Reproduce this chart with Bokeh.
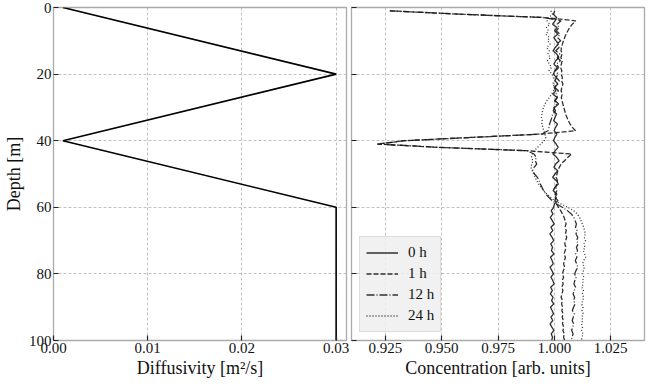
from bokeh.plotting import figure
from bokeh.layouts import row
from bokeh.models import Range1d, FixedTicker, Legend, LegendItem
from bokeh.embed import file_html
from bokeh.resources import INLINE

# ---- data -----------------------------------------------------------------
diff_depth = [0, 20, 40, 60, 100]
diff_vals = [0.001, 0.030, 0.001, 0.030, 0.030]

depth = list(range(1, 101))

conc_0h = [
    1.0002, 0.9995, 1.0010, 1.0003, 0.9992, 1.0012, 1.0001, 1.0015, 0.9997, 1.0008,
    1.0018, 1.0004, 0.9994, 1.0011, 1.0020, 1.0006, 0.9998, 1.0013, 1.0002, 0.9996,
    1.0009, 1.0003, 1.0016, 0.9999, 1.0007, 0.9993, 1.0012, 1.0004, 1.0019, 1.0001,
    0.9995, 1.0010, 1.0003, 0.9997, 1.0014, 1.0005, 0.9999, 1.0011, 1.0002, 0.9996,
    1.0008, 1.0017, 1.0004, 0.9994, 1.0010, 1.0021, 1.0006, 0.9998, 1.0015, 1.0003,
    0.9992, 1.0009, 1.0018, 1.0002, 0.9995, 1.0011, 1.0004, 1.0016, 1.0000, 0.9997,
    0.9986, 0.9994, 0.9982, 0.9991, 0.9999, 0.9985, 0.9993, 0.9980, 0.9990, 0.9997,
    0.9984, 0.9992, 0.9987, 0.9998, 0.9983, 0.9990, 0.9995, 0.9981, 0.9989, 0.9996,
    0.9985, 0.9993, 0.9999, 0.9984, 0.9991, 0.9982, 0.9994, 0.9988, 0.9997, 0.9983,
    0.9990, 0.9996, 0.9985, 0.9993, 0.9981, 0.9989, 0.9998, 0.9986, 0.9992, 0.9988,
]

conc_1h = [
    0.9270, 0.9580, 0.9950, 1.0095, 1.0080, 1.0068, 1.0060, 1.0052, 1.0046, 1.0040,
    1.0036, 1.0031, 1.0030, 1.0034, 1.0029, 1.0035, 1.0031, 1.0028, 1.0033, 1.0030,
    1.0036, 1.0032, 1.0038, 1.0033, 1.0030, 1.0035, 1.0031, 1.0034, 1.0038, 1.0042,
    1.0046, 1.0050, 1.0056, 1.0062, 1.0070, 1.0080, 1.0094, 0.9944, 0.9638, 0.9337,
    0.9215, 0.9487, 0.9877, 1.0077, 1.0060, 1.0045, 1.0030, 1.0022, 1.0015, 1.0012,
    1.0008, 1.0014, 1.0010, 1.0006, 1.0011, 1.0004, 1.0008, 1.0003, 1.0010, 1.0018,
    1.0028, 1.0036, 1.0043, 1.0048, 1.0052, 1.0047, 1.0053, 1.0049, 1.0055, 1.0050,
    1.0046, 1.0052, 1.0048, 1.0043, 1.0049, 1.0045, 1.0041, 1.0046, 1.0040, 1.0036,
    1.0041, 1.0035, 1.0039, 1.0033, 1.0038, 1.0034, 1.0030, 1.0036, 1.0032, 1.0037,
    1.0033, 1.0039, 1.0035, 1.0040, 1.0036, 1.0042, 1.0038, 1.0044, 1.0041, 1.0046,
]

conc_12h = [
    0.9270, 0.9580, 0.9950, 1.0030, 1.0012, 1.0022, 1.0008, 1.0025, 1.0014, 1.0028,
    1.0010, 1.0021, 1.0006, 1.0024, 1.0013, 1.0027, 1.0009, 1.0019, 1.0005, 1.0017,
    1.0008, 1.0022, 1.0011, 1.0003, 1.0018, 1.0007, 1.0014, 1.0001, 1.0010, 0.9998,
    1.0005, 0.9993, 0.9989, 0.9984, 0.9979, 0.9976, 0.9972, 0.9944, 0.9638, 0.9337,
    0.9215, 0.9487, 0.9877, 0.9910, 0.9920, 0.9915, 0.9922, 0.9910, 0.9904, 0.9912,
    0.9925, 0.9932, 0.9938, 0.9945, 0.9952, 0.9962, 0.9975, 0.9990, 1.0010, 1.0035,
    1.0058, 1.0075, 1.0086, 1.0092, 1.0098, 1.0094, 1.0101, 1.0096, 1.0104, 1.0099,
    1.0106, 1.0098, 1.0103, 1.0095, 1.0100, 1.0093, 1.0099, 1.0104, 1.0096, 1.0090,
    1.0097, 1.0091, 1.0087, 1.0094, 1.0089, 1.0083, 1.0090, 1.0086, 1.0092, 1.0085,
    1.0080, 1.0088, 1.0084, 1.0079, 1.0086, 1.0081, 1.0077, 1.0083, 1.0079, 1.0075,
]

conc_24h = [
    0.9985, 0.9992, 0.9975, 0.9968, 0.9980, 0.9965, 0.9974, 0.9962, 0.9978, 0.9970,
    0.9981, 0.9966, 0.9977, 0.9971, 0.9983, 0.9969, 0.9979, 0.9987, 0.9976, 0.9990,
    0.9995, 1.0002, 0.9992, 1.0004, 0.9996, 0.9988, 0.9978, 0.9967, 0.9958, 0.9952,
    0.9948, 0.9945, 0.9943, 0.9946, 0.9944, 0.9949, 0.9953, 0.9958, 0.9962, 0.9955,
    0.9940, 0.9925, 0.9912, 0.9903, 0.9898, 0.9905, 0.9900, 0.9896, 0.9902, 0.9908,
    0.9914, 0.9922, 0.9930, 0.9941, 0.9953, 0.9966, 0.9982, 1.0002, 1.0030, 1.0060,
    1.0085, 1.0102, 1.0112, 1.0118, 1.0124, 1.0130, 1.0134, 1.0137, 1.0133, 1.0138,
    1.0131, 1.0136, 1.0128, 1.0134, 1.0139, 1.0130, 1.0126, 1.0133, 1.0129, 1.0124,
    1.0131, 1.0125, 1.0128, 1.0122, 1.0129, 1.0124, 1.0130, 1.0126, 1.0121, 1.0127,
    1.0123, 1.0128, 1.0122, 1.0126, 1.0120, 1.0125, 1.0121, 1.0127, 1.0123, 1.0119,
]

series_labels = ["0 h", "1 h", "12 h", "24 h"]
series_dash = ["solid", "5 2", "8 2 1 2", "1 2"]

depth_ticks = [0, 20, 40, 60, 80, 100]
diff_ticks = [0.0, 0.01, 0.02, 0.03]
diff_tick_labels = ["0.00", "0.01", "0.02", "0.03"]
conc_ticks = [0.925, 0.95, 0.975, 1.0, 1.025]
conc_tick_labels = ["0.925", "0.950", "0.975", "1.000", "1.025"]

FONT = "Liberation Serif"
TICK_SIZE = "15px"
TITLE_SIZE = "18px"
GRID_COLOR = "#b3b3b3"
FRAME_COLOR = "#aaaaaa"


def style(p):
    p.outline_line_color = FRAME_COLOR
    p.outline_line_width = 1.3
    p.background_fill_color = "white"
    p.border_fill_color = "white"
    for ax in (p.xaxis[0], p.yaxis[0]):
        ax.axis_line_color = None
        ax.major_tick_in = 5
        ax.major_tick_out = 0
        ax.minor_tick_in = 0
        ax.minor_tick_out = 0
        ax.major_tick_line_color = "#222222"
        ax.major_tick_line_width = 1.2
        ax.major_label_text_font = FONT
        ax.major_label_text_font_size = TICK_SIZE
        ax.major_label_text_color = "#111111"
        ax.major_label_standoff = 2
        ax.axis_label_text_font = FONT
        ax.axis_label_text_font_size = TITLE_SIZE
        ax.axis_label_text_font_style = "normal"
        ax.axis_label_text_color = "#111111"
        ax.axis_label_standoff = 2
    for g in (p.xgrid[0], p.ygrid[0]):
        g.grid_line_color = GRID_COLOR
        g.grid_line_dash = "3 2"
        g.grid_line_width = 0.8


H = 381

# ---- left panel: diffusivity ------------------------------------------------
p1 = figure(width=349, height=H, x_range=Range1d(0.0, 0.0311),
            y_range=Range1d(100, 0), output_backend="svg",
            toolbar_location=None, min_border_left=52, min_border_right=3,
            min_border_top=7, min_border_bottom=41)
style(p1)
p1.xaxis.ticker = FixedTicker(ticks=diff_ticks)
p1.xaxis.major_label_overrides = dict(zip(diff_ticks, diff_tick_labels))
p1.yaxis.ticker = FixedTicker(ticks=depth_ticks)
p1.xaxis.axis_label = "Diffusivity [m\u00b2/s]"
p1.yaxis.axis_label = "Depth [m]"
p1.line(diff_vals, diff_depth, line_color="black", line_width=1.6)

# ---- right panel: concentration ---------------------------------------------
p2 = figure(width=303, height=H, x_range=Range1d(0.910, 1.040),
            y_range=p1.y_range, output_backend="svg",
            toolbar_location=None, min_border_left=2, min_border_right=8,
            min_border_top=7, min_border_bottom=41)
style(p2)
p2.xaxis.ticker = FixedTicker(ticks=conc_ticks)
p2.xaxis.major_label_overrides = dict(zip(conc_ticks, conc_tick_labels))
p2.yaxis.ticker = FixedTicker(ticks=depth_ticks)
p2.yaxis.major_label_overrides = {t: "" for t in depth_ticks}
p2.yaxis.major_label_standoff = 0
p2.xaxis.axis_label = "Concentration [arb. units]"

items = []
for vals, lab, dash in zip([conc_0h, conc_1h, conc_12h, conc_24h],
                           series_labels, series_dash):
    r = p2.line(vals, depth, line_color="#1a1a1a", line_width=1.3,
                line_alpha=0.9, line_dash=dash)
    items.append(LegendItem(label=lab, renderers=[r]))

legend = Legend(items=items, location="bottom_left")
legend.margin = 8
legend.padding = 6
legend.spacing = 2
legend.label_height = 19
legend.glyph_height = 19
legend.glyph_width = 32
legend.label_standoff = 10
legend.label_text_font = FONT
legend.label_text_font_size = TICK_SIZE
legend.label_text_color = "#111111"
legend.label_text_align = "left"
legend.background_fill_color = "#efefef"
legend.background_fill_alpha = 0.85
legend.border_line_color = "#cccccc"
legend.border_line_width = 1
p2.add_layout(legend)

layout = row(p1, p2)
open("out.html", "w").write(file_html(layout, INLINE))
